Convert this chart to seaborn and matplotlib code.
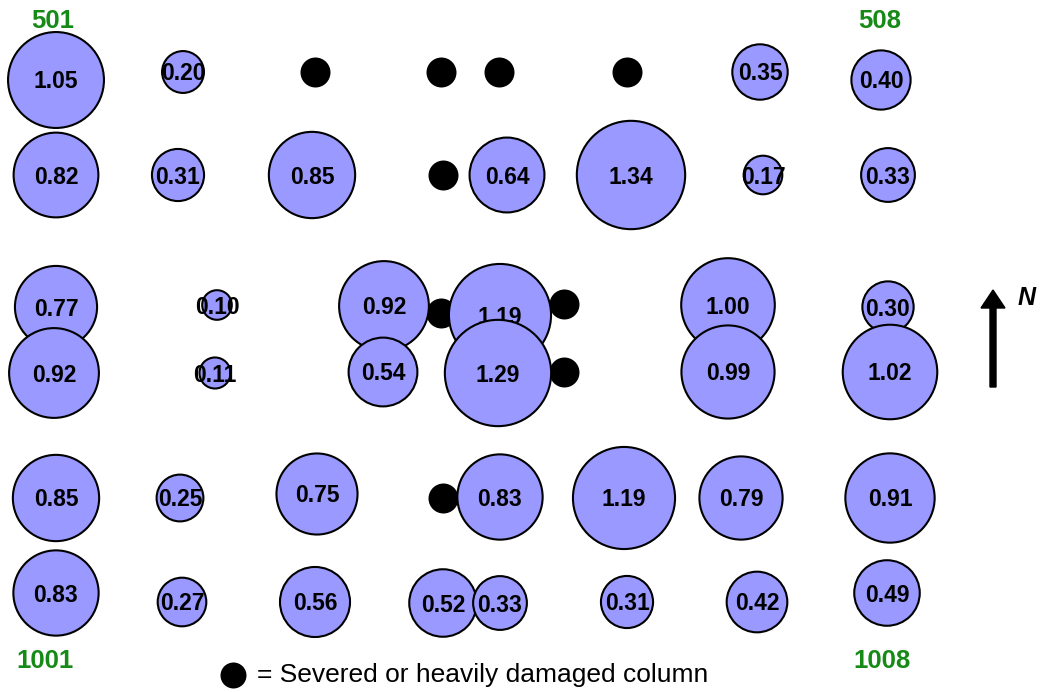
import seaborn as sns
import matplotlib.pyplot as plt
import pandas as pd
import numpy as np

# -------------------------------
# Column data (pixel grid positions of each column, value shown in circle)
# -------------------------------
row_id = [1] * 4 + [2] * 7 + [3] * 6 + [4] * 6 + [5] * 7 + [6] * 8
col_x = [56, 183, 760, 881,
         56, 178, 312, 507, 631, 763, 888,
         56, 217, 384, 500, 728, 888,
         54, 215, 383, 498, 728, 890,
         56, 180, 317, 500, 624, 741, 890,
         56, 182, 315, 443, 500, 627, 757, 887]
col_y = [80, 72, 72, 80,
         175, 175, 175, 175, 175, 175, 175,
         307, 305, 306, 315, 305, 307,
         373, 373, 372, 373, 372, 372,
         498, 498, 494, 497, 498, 498, 498,
         593, 602, 602, 603, 603, 602, 602, 593]
values = [1.05, 0.20, 0.35, 0.40,
          0.82, 0.31, 0.85, 0.64, 1.34, 0.17, 0.33,
          0.77, 0.10, 0.92, 1.19, 1.00, 0.30,
          0.92, 0.11, 0.54, 1.29, 0.99, 1.02,
          0.85, 0.25, 0.75, 0.83, 1.19, 0.79, 0.91,
          0.83, 0.27, 0.56, 0.52, 0.33, 0.31, 0.42, 0.49]

# severed / heavily damaged columns
damaged_x = [315, 441, 499, 627, 443, 441, 564, 564, 443]
damaged_y = [72, 72, 72, 72, 175, 313, 304, 372, 498]

corner_labels = ["501", "508", "1001", "1008"]
corner_x = [53, 880, 45, 882]
corner_y = [21, 21, 661, 661]

df = pd.DataFrame({"row": row_id, "x": col_x, "y": col_y, "value": values})
dmg = pd.DataFrame({"x": damaged_x, "y": damaged_y})

# -------------------------------
# Plot
# -------------------------------
sns.set_style("white")
plt.rcParams["font.family"] = ["Liberation Sans", "DejaVu Sans"]
plt.rcParams["text.color"] = "black"

W, H, DPI = 1044, 692, 100
fig = plt.figure(figsize=(W / DPI, H / DPI), dpi=DPI)
ax = fig.add_axes([0, 0, 1, 1])
ax.set_xlim(0, W)
ax.set_ylim(H, 0)
ax.axis("off")

# area proportional to value: radius(px) = 46.8 * sqrt(v)
k = (2 * 46.8 * 72 / DPI) ** 2
vmin, vmax = min(values), max(values)

sns.scatterplot(data=dmg, x="x", y="y", color="black", s=(30 * 0.72) ** 2,
                linewidth=0, ax=ax, zorder=2, legend=False)

z = 3
for r, sub in df.groupby("row"):
    sns.scatterplot(data=sub, x="x", y="y", size="value",
                    sizes=(k * vmin, k * vmax), size_norm=(vmin, vmax),
                    color="#9999FF", edgecolor="black", linewidth=1.5,
                    ax=ax, zorder=z, legend=False)
    for _, p in sub.iterrows():
        ax.text(p["x"], p["y"] + 2, f"{p['value']:.2f}", ha="center",
                va="center", fontsize=16.5, fontweight="bold", color="black",
                zorder=z + 1)
    z += 2

for lab, x, y in zip(corner_labels, corner_x, corner_y):
    ax.text(x, y, lab, ha="center", va="center", fontsize=18.5,
            fontweight="bold", color="#168a16")

# north arrow
ax.arrow(993, 387, 0, -97, width=6, head_width=24, head_length=18,
         length_includes_head=True, color="black")
ax.text(1027, 298, "N", ha="center", va="center", fontsize=18,
        fontweight="bold", fontstyle="italic", color="black")

# legend
ax.scatter([233], [675], s=(26 * 0.72) ** 2, color="black", linewidth=0)
ax.text(257, 675, "= Severed or heavily damaged column", ha="left",
        va="center", fontsize=19, color="black")

plt.savefig("out.png", dpi=DPI)
plt.close()
